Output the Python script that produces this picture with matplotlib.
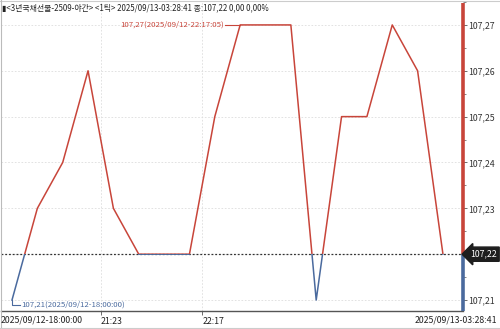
import matplotlib
matplotlib.use("Agg")
import matplotlib.pyplot as plt
from matplotlib.patches import Rectangle
import numpy as np

plt.rcParams['font.family'] = ['Noto Sans CJK KR', 'DejaVu Sans']

# ---- data ----
prices = [107.21, 107.23, 107.24, 107.26, 107.23, 107.22, 107.22, 107.22, 107.25,
          107.27, 107.27, 107.27, 107.21, 107.25, 107.25, 107.27, 107.26, 107.22]
ref_price = 107.22
yticks = [107.21, 107.22, 107.23, 107.24, 107.25, 107.26, 107.27]
ytick_labels = ["107,21", "", "107,23", "107,24", "107,25", "107,26", "107,27"]
xtick_pos = [3.5, 7.5]
xtick_labels = ["21:23", "22:17"]
start_label = "2025/09/12-18:00:00"
end_label = "2025/09/13-03:28:41"
title = "▮<3년국채선물-2509-야간> <1틱> 2025/09/13-03:28:41 종:107,22 0,00 0,00%"
max_label = "107,27(2025/09/12-22:17:05)"
min_label = "107,21(2025/09/12-18:00:00)"
last_label = "107,22"

RED = "#c8453a"
BLUE = "#4a6a9e"

W, H = 500, 329
fig = plt.figure(figsize=(W / 100, H / 100), dpi=100)
ax_l, ax_r, ax_t, ax_b = 1, 463, 2, 311
ax = fig.add_axes([ax_l / W, 1 - ax_b / H, (ax_r - ax_l) / W, (ax_b - ax_t) / H])

x = np.arange(len(prices))
px_per_idx = 25.35
px_per_val = 4600.0
x_left = -(12 - ax_l) / px_per_idx
x_right = (ax_r - 12) / px_per_idx
y_bot = 107.21 - (ax_b - 300) / px_per_val
y_top = 107.27 + (24 - ax_t) / px_per_val
ax.set_xlim(x_left, x_right)
ax.set_ylim(y_bot, y_top)

# grid
for yv in yticks:
    ax.axhline(yv, color="#dddddd", lw=0.6, ls=(0, (2, 2)), zorder=0)
for xv in xtick_pos:
    ax.axvline(xv, color="#dddddd", lw=0.6, ls=(0, (2, 2)), zorder=0)

# price line: red above ref, blue below
red_line, = ax.plot(x, prices, color=RED, lw=1.1, zorder=3)
blue_line, = ax.plot(x, prices, color=BLUE, lw=1.1, zorder=4)
clip_hi = Rectangle((x_left, ref_price), x_right - x_left, y_top - ref_price, transform=ax.transData)
clip_lo = Rectangle((x_left, y_bot), x_right - x_left, ref_price - y_bot, transform=ax.transData)
red_line.set_clip_path(clip_hi)
blue_line.set_clip_path(clip_lo)

# reference dotted line
ax.axhline(ref_price, color="#333333", lw=0.9, ls=(0, (1.5, 1.5)), zorder=2)

# right axis line in two colors
ax.vlines(x_right, ref_price, y_top, color=RED, lw=2.6, clip_on=False, zorder=5)
ax.vlines(x_right, y_bot, ref_price, color=BLUE, lw=2.6, clip_on=False, zorder=5)

# spines
for s in ["top", "right", "left"]:
    ax.spines[s].set_visible(False)
ax.spines["bottom"].set_color("#555555")
ax.spines["bottom"].set_linewidth(1.0)

# y ticks
ax.yaxis.tick_right()
ax.set_yticks(yticks)
ax.set_yticklabels(ytick_labels, fontsize=6.3, color="#333333")
ax.set_yticks(np.arange(107.21, 107.2751, 0.005), minor=True)
ax.tick_params(axis="y", which="major", length=3, width=0.6, color="#555555", pad=1, direction="out")
ax.tick_params(axis="y", which="minor", length=2, width=0.5, color="#555555", direction="out")

# x ticks
ax.set_xticks(xtick_pos)
ax.set_xticklabels(xtick_labels, fontsize=6.3, color="#222222", ha="left")
ax.tick_params(axis="x", length=3, width=0.6, color="#555555", pad=1.5)

# annotations
max_idx = int(np.argmax(prices))
max_x = max_idx
line_start = max_x - 15 / px_per_idx
ax.plot([line_start, max_x], [prices[max_idx], prices[max_idx]], color=RED, lw=0.8, zorder=3)
ax.text(line_start - 1 / px_per_idx, prices[max_idx], max_label, color=RED, fontsize=5.6,
        ha="right", va="center", zorder=6)

min_idx = 0
yl = prices[min_idx] - 5 / px_per_val
ax.plot([min_idx, min_idx, min_idx + 8 / px_per_idx], [prices[min_idx], yl, yl], color=BLUE, lw=0.8, zorder=3)
ax.text(min_idx + 9 / px_per_idx, yl, min_label, color=BLUE, fontsize=5.6, ha="left", va="center", zorder=6)

# last price tag on the right
ax.annotate(last_label, xy=(1.0, ref_price), xycoords=("axes fraction", "data"),
            xytext=(5, 0), textcoords="offset points", fontsize=6.3, color="white",
            ha="left", va="center", annotation_clip=False,
            bbox=dict(boxstyle="larrow,pad=0.3", fc="#1e1e1e", ec="#1e1e1e"), zorder=7)

# title
fig.text(2 / W, 1 - 8 / H, title, fontsize=5.7, color="#222222", ha="left", va="center")

# bottom labels
fig.text(1 / W, 1 - 320 / H, start_label, fontsize=6.3, color="#222222", ha="left", va="center")
fig.text(497 / W, 1 - 320 / H, end_label, fontsize=6.3, color="#222222", ha="right", va="center")

# frame lines
fig.add_artist(plt.Line2D([0, 1], [1 - 1 / H, 1 - 1 / H], color="#cccccc", lw=0.8))
fig.add_artist(plt.Line2D([1 / W, 1 / W], [1 - 327 / H, 1], color="#bbbbbb", lw=0.8))
fig.add_artist(plt.Line2D([0, 1], [1 - 327.5 / H, 1 - 327.5 / H], color="#cccccc", lw=0.8))

fig.savefig("out.png", dpi=100)
